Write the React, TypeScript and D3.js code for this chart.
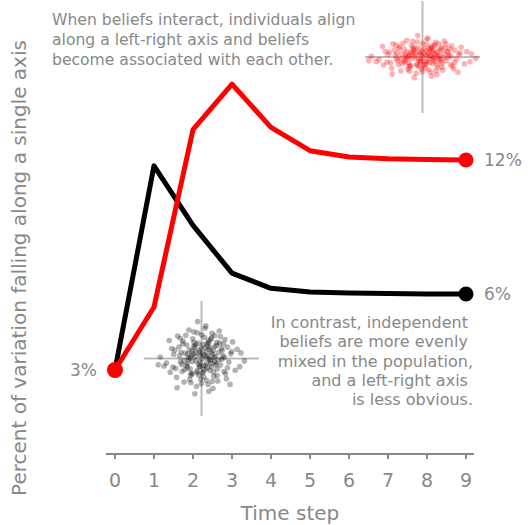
import React, { useEffect, useRef } from "react";
import * as d3 from "d3";

const steps = [0, 1, 2, 3, 4, 5, 6, 7, 8, 9];
// share of variation along a single axis (%)
const interacting = [3, 5.7, 13.3, 15.25, 13.4, 12.4, 12.13, 12.05, 12.02, 12];
const independent = [3, 11.75, 9.2, 7.15, 6.5, 6.34, 6.3, 6.28, 6.26, 6.26];
const endLabels = ["3%", "6%", "12%"];

const topNote = [
    "When beliefs interact, individuals align",
    "along a left-right axis and beliefs",
    "become associated with each other.",
];
const bottomNote = [
    "In contrast, independent ",
    "beliefs are more evenly ",
    "mixed in the population,",
    "and a left-right axis ",
    "is less obvious.",
];

// individuals in belief space (standardised)
const cloud: [number, number][] = [
    [0.12, -0.45], [-1.03, 0.33], [0.58, 1.21], [-0.27, -0.88], [1.44, 0.07], [-0.66, -1.52], [0.91, -0.39], [-1.87, 0.62], [0.35, 0.95], [-0.08, 0.18],
    [2.11, -0.74], [-0.49, 1.67], [0.77, -1.12], [-1.32, -0.21], [0.03, -0.03], [1.18, 1.38], [-0.92, 0.84], [0.46, -2.05], [-0.15, 0.51], [1.63, -0.58],
    [-2.34, -0.47], [0.69, 0.26], [-0.71, -0.64], [0.22, 1.89], [1.02, -1.41], [-1.15, 1.09], [0.54, -0.12], [-0.37, 0.41], [2.47, 0.35], [-0.58, -0.97],
    [0.84, 0.73], [-1.56, -1.18], [0.17, -0.69], [-0.24, 2.31], [1.29, 0.49], [-0.83, 0.04], [0.41, -1.63], [-1.74, 0.27], [0.96, 1.02], [-0.05, -1.29],
    [1.71, -0.22], [-0.44, 0.68], [0.28, 0.11], [-1.21, -0.81], [0.63, -0.51], [-0.98, 1.46], [1.37, 0.91], [-0.19, -0.36], [0.09, 0.87], [-2.02, 1.13],
    [0.75, -0.84], [-0.63, 0.19], [1.95, 1.04], [-0.31, -1.74], [0.48, 0.56], [-1.41, 0.72], [1.08, -0.09], [-0.12, -0.55], [0.33, -0.27], [-0.87, -0.31],
    [2.68, -0.15], [-0.55, 1.24], [0.61, 0.38], [-1.09, -1.47], [0.19, 1.33], [1.51, -0.96], [-0.76, 0.55], [0.87, 0.14], [-1.62, -0.62], [0.05, -0.91],
    [1.24, 0.62], [-0.34, -0.14], [0.72, -1.88], [-2.58, 0.09], [0.38, 0.79], [-0.95, -0.43], [1.11, 1.72], [-0.21, 0.96], [0.56, -0.33], [-1.28, 0.39],
    [0.14, -1.16], [1.83, 0.29], [-0.68, -1.05], [0.29, 0.44], [-0.42, -2.21], [0.99, -0.66], [-1.49, 1.41], [0.43, 0.02], [-0.03, 0.63], [1.56, -1.27],
    [-0.81, -0.08], [0.66, 1.57], [-1.96, -0.86], [0.24, -0.46], [1.33, 0.17], [-0.52, 0.29], [0.81, -0.19], [-1.18, 0.93], [0.01, 1.48], [2.23, 0.58],
    [-0.29, -0.77], [0.53, 0.69], [-0.74, -1.31], [1.47, 1.19], [-1.37, 0.16], [0.36, -0.59], [-0.14, 0.34], [0.93, 0.83], [-2.19, -0.28], [0.67, -1.44],
    [-0.47, 1.02], [1.19, -0.41], [-0.89, -0.56], [0.16, 0.23], [1.79, -1.62], [-0.61, 0.47], [0.44, 1.11], [-1.53, -1.83], [0.79, 0.08], [-0.09, -0.24],
    [0.27, 2.04], [-1.24, -0.37], [1.06, 0.37], [-0.36, 0.88], [0.51, -0.73], [-0.79, 1.78], [1.62, 0.71], [-0.18, -1.02], [0.89, -0.28], [-1.67, 0.53],
    [0.07, 0.31], [2.39, -0.51], [-0.57, -0.19], [0.62, 1.28], [-1.04, -0.69], [0.31, -1.37], [1.27, -0.04], [-0.39, 0.12], [0.74, 0.52], [-2.71, -0.39],
    [0.46, 0.99], [-0.86, 0.28], [1.41, -0.81], [-0.11, -0.49], [0.21, 0.67], [-1.33, 1.27], [0.98, -1.07], [-0.64, -0.91], [1.89, 0.44], [-0.26, 1.61],
    [0.57, -0.06], [-1.11, -0.13], [0.13, -0.83], [-0.48, 0.76], [1.14, 0.96], [-1.79, -0.54], [0.39, 0.17], [-0.01, -1.57], [0.83, 1.44], [-0.7, 0.04],
];

const W = 532;
const H = 525;
const GRAY = "#888";

const App: React.FC = () => {
    const svgRef = useRef<SVGSVGElement | null>(null);

    useEffect(() => {
        const svg = d3.select(svgRef.current);
        svg.selectAll("*").remove();

        const x = d3.scaleLinear().domain([0, 9]).range([115, 466]);
        const y = d3.scaleLinear().domain([3, 12]).range([370, 160]);

        // insets
        const insets = [
            { xs: d3.scaleLinear().domain([-2.9, 2.9]).range([365, 480]),
              ys: d3.scaleLinear().domain([-6, 6]).range([113, 1]), color: "red" },
            { xs: d3.scaleLinear().domain([-3.6, 3.6]).range([144, 259]),
              ys: d3.scaleLinear().domain([-3.6, 3.6]).range([416, 301]), color: "black" },
        ];
        insets.forEach((ins) => {
            const g = svg.append("g");
            const [x0, x1] = ins.xs.range();
            const [y0, y1] = ins.ys.range();
            g.append("line").attr("x1", ins.xs(0)).attr("x2", ins.xs(0)).attr("y1", y0).attr("y2", y1)
                .attr("stroke", "#bbb").attr("stroke-width", 2);
            g.append("line").attr("x1", x0).attr("x2", x1).attr("y1", ins.ys(0)).attr("y2", ins.ys(0))
                .attr("stroke", "#bbb").attr("stroke-width", 2);
            g.selectAll("circle").data(cloud).enter().append("circle")
                .attr("cx", (d) => ins.xs(d[0]))
                .attr("cy", (d) => ins.ys(d[1]))
                .attr("r", 2.8)
                .attr("fill", ins.color)
                .attr("fill-opacity", 0.3);
        });

        // x axis
        const ax = svg.append("g").attr("transform", "translate(0,454)");
        ax.append("line").attr("x1", 106).attr("x2", 474).attr("stroke", GRAY).attr("stroke-width", 2);
        ax.selectAll("line.tick").data(steps).enter().append("line")
            .attr("class", "tick")
            .attr("x1", (d) => x(d)).attr("x2", (d) => x(d))
            .attr("y1", 0).attr("y2", 5)
            .attr("stroke", GRAY).attr("stroke-width", 2);
        ax.selectAll("text").data(steps).enter().append("text")
            .attr("x", (d) => x(d)).attr("y", 33)
            .attr("text-anchor", "middle")
            .attr("fill", GRAY).attr("font-size", 19)
            .text((d) => String(d));

        svg.append("text").attr("x", 290).attr("y", 520).attr("text-anchor", "middle")
            .attr("fill", GRAY).attr("font-size", 20).text("Time step");
        svg.append("text")
            .attr("transform", "translate(26,268) rotate(-90)")
            .attr("text-anchor", "middle")
            .attr("fill", GRAY).attr("font-size", 20)
            .text("Percent of variation falling along a single axis");

        const line = d3.line<number>().x((_, i) => x(steps[i])).y((d) => y(d));
        svg.append("path").datum(independent).attr("d", line).attr("fill", "none")
            .attr("stroke", "black").attr("stroke-width", 5).attr("stroke-linejoin", "round");
        svg.append("path").datum(interacting).attr("d", line).attr("fill", "none")
            .attr("stroke", "red").attr("stroke-width", 5).attr("stroke-linejoin", "round");

        svg.append("circle").attr("cx", x(9)).attr("cy", y(independent[9])).attr("r", 7.5).attr("fill", "black");
        svg.append("circle").attr("cx", x(9)).attr("cy", y(interacting[9])).attr("r", 7.5).attr("fill", "red");
        svg.append("circle").attr("cx", x(0)).attr("cy", y(interacting[0])).attr("r", 8).attr("fill", "red");

        const lab = (t: string, px: number, py: number, anchor: string) =>
            svg.append("text").attr("x", px).attr("y", py).attr("dy", "0.35em")
                .attr("text-anchor", anchor).attr("fill", GRAY).attr("font-size", 17).text(t);
        lab(endLabels[0], 97, y(interacting[0]), "end");
        lab(endLabels[1], 484, y(independent[9]), "start");
        lab(endLabels[2], 484, y(interacting[9]), "start");

        svg.append("g").selectAll("text").data(topNote).enter().append("text")
            .attr("x", 52).attr("y", (_, i) => 25 + i * 20)
            .attr("fill", GRAY).attr("font-size", 15.6).text((d) => d);
        svg.append("g").selectAll("text").data(bottomNote).enter().append("text")
            .attr("x", 473).attr("y", (_, i) => 328 + i * 19.25)
            .attr("text-anchor", "end")
            .style("white-space", "pre")
            .attr("fill", GRAY).attr("font-size", 16).text((d) => d);
    }, []);

    return (
        <svg ref={svgRef} width={W} height={H}
            style={{ position: "absolute", left: 0, top: 0, fontFamily: "DejaVu Sans", background: "white" }} />
    );
};

export default App;
